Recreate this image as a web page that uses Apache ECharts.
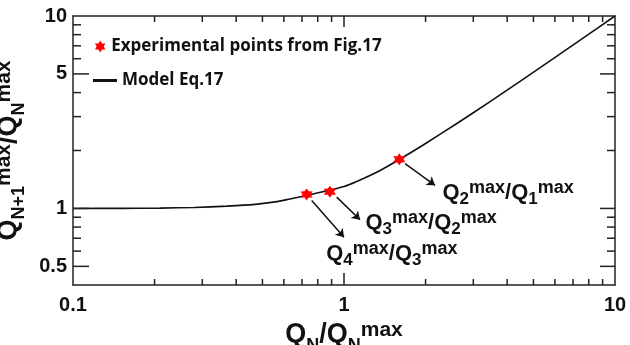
<!DOCTYPE html>
<html><head><meta charset="utf-8">
<script src="https://cdn.jsdelivr.net/npm/echarts@6/dist/echarts.min.js"></script>
<style>html,body{margin:0;padding:0;background:#fff}#c{width:630px;height:345px}</style>
</head><body><div id="c"></div>
<script>
// ---- data ----
const modelX = [0.1, 0.15, 0.209, 0.28, 0.37, 0.47, 0.566, 0.632, 0.728, 0.887, 1.0, 1.114, 1.32, 1.6, 1.96, 2.6, 3.46, 4.59, 5.92, 7.86, 10];
const modelY = [1.0, 1.001, 1.004, 1.012, 1.028, 1.05, 1.085, 1.12, 1.168, 1.245, 1.30, 1.38, 1.541, 1.797, 2.136, 2.754, 3.59, 4.70, 6.0, 7.90, 10];
const expX = [0.728, 0.887, 1.6];
const expY = [1.183, 1.222, 1.80];

const xLabelVals = [0.1, 1, 10];
const xMajorTicks = [1];
const xMinorTicks = [0.2, 0.3, 0.4, 0.5, 0.6, 0.7, 0.8, 0.9, 2, 3, 4, 5, 6, 7, 8, 9];
const yLabelVals = [0.5, 1, 5, 10];
const yMajorTicks = [0.5, 1, 5];
const yMinorTicks = [0.6, 0.7, 0.8, 0.9, 2, 3, 4, 6, 7, 8, 9];
const xRange = [0.1, 10];
const yRange = [0.4, 10];

// annotations: Q_num^max / Q_den^max
const annotNum = [2, 3, 4];
const annotDen = [1, 2, 3];
const annotX = [2.299, 1.195, 0.856];
const annotY = [1.206, 0.840, 0.583];
const arrowFromX = [1.68, 0.94, 0.76];
const arrowFromY = [1.71, 1.145, 1.10];
const arrowToX = [2.167, 1.146, 1.0];
const arrowToY = [1.318, 0.873, 0.709];

const legendNames = ['Experimental points from Fig.17', 'Model Eq.17'];

// ---- build ----
const L = Math.log10;
const INK = '#111';
const FONT = 'Liberation Sans';
const xMin = L(xRange[0]), xMax = L(xRange[1]);
const yMin = L(yRange[0]), yMax = L(yRange[1]);
const GRID = { left: 73, right: 15, top: 16, bottom: 60 };
const W = 630, H = 345;

function starPath() {
  const pts = [];
  for (let i = 0; i < 12; i++) {
    const a = (-90 + i * 30) * Math.PI / 180;
    const r = i % 2 === 0 ? 50 : 30;
    pts.push((50 + r * Math.cos(a)).toFixed(2) + ' ' + (50 + r * Math.sin(a)).toFixed(2));
  }
  return 'path://M' + pts.join(' L') + ' Z';
}
const STAR = starPath();
const fmt = v => String(Math.round(Math.pow(10, v) * 1000) / 1000);

const titleRich = {
  q: { fontSize: 27, fontWeight: 'bold', fontFamily: FONT, color: INK, lineHeight: 34 },
  sub: { fontSize: 18, fontWeight: 'bold', fontFamily: FONT, color: INK, padding: [22, 0, 0, 0] },
  sup: { fontSize: 21, fontWeight: 'bold', fontFamily: FONT, color: INK, padding: [0, 0, 9, 0] }
};
const annRich = {
  q: { fontSize: 22, fontWeight: 'bold', fontFamily: FONT, color: INK, lineHeight: 32 },
  sub: { fontSize: 17, fontWeight: 'bold', fontFamily: FONT, color: INK, padding: [13, 0, 0, 0] },
  sup: { fontSize: 18, fontWeight: 'bold', fontFamily: FONT, color: INK, padding: [0, 0, 9, 0] }
};

const frameStyle = { color: '#222', width: 1.5 };
function ax(extra) {
  return Object.assign({
    type: 'value',
    axisLine: { show: true, onZero: false, lineStyle: frameStyle },
    splitLine: { show: false },
    axisLabel: { show: false },
    axisTick: { show: false }
  }, extra);
}
const labelStyle = { fontSize: 20, fontWeight: 'bold', fontFamily: FONT, color: INK };

// tick definitions: [xValue, yValue, dxPx, dyPx]
const tickDefs = [];
xMajorTicks.forEach(v => { tickDefs.push([L(v), yMin, 0, -12]); tickDefs.push([L(v), yMax, 0, 11]); });
xMinorTicks.forEach(v => { tickDefs.push([L(v), yMin, 0, -6]); tickDefs.push([L(v), yMax, 0, 6]); });
yMajorTicks.forEach(v => { tickDefs.push([xMin, L(v), 16, 0]); tickDefs.push([xMax, L(v), -15, 0]); });
yMinorTicks.forEach(v => { tickDefs.push([xMin, L(v), 8, 0]); tickDefs.push([xMax, L(v), -8, 0]); });

const legendText = { fontFamily: 'Open Sans', fontWeight: 'bold', fontSize: 17, color: INK };

const option = {
  animation: false,
  backgroundColor: '#fff',
  grid: Object.assign({ show: false, containLabel: false, outerBoundsMode: 'none' }, GRID),
  legend: [
    { data: [legendNames[0]], left: 95, top: 38, padding: 0, itemWidth: 12, itemHeight: 12, selectedMode: false,
      textStyle: legendText },
    { data: [{ name: legendNames[1], icon: 'rect', itemStyle: { color: INK } }], left: 93, top: 72, padding: 0,
      itemWidth: 24, itemHeight: 3, selectedMode: false, textStyle: legendText }
  ],
  xAxis: [
    ax({ position: 'bottom', min: xMin, max: xMax,
      axisLabel: Object.assign({ show: true, margin: 10, customValues: xLabelVals.map(L), formatter: fmt }, labelStyle),
      name: '{q|Q}{sub|N}{q|/Q}{sub|N}{sup|max}', nameLocation: 'middle', nameGap: 25,
      nameTextStyle: { rich: titleRich } }),
    ax({ position: 'top', min: xMin, max: xMax })
  ],
  yAxis: [
    ax({ position: 'left', min: yMin, max: yMax,
      axisLabel: Object.assign({ show: true, margin: 6, customValues: yLabelVals.map(L), formatter: fmt }, labelStyle),
      name: '{q|Q}{sub|N+1}{sup|max}{q|/Q}{sub|N}{sup|max}', nameLocation: 'middle', nameRotate: 90, nameGap: 31,
      nameTextStyle: { rich: titleRich } }),
    ax({ position: 'right', min: yMin, max: yMax })
  ],
  series: [
    { name: legendNames[1], type: 'line', symbol: 'none', smooth: 0.25,
      data: modelX.map((x, i) => [L(x), L(modelY[i])]),
      lineStyle: { color: INK, width: 1.6 }, itemStyle: { color: INK }, z: 2 },
    { type: 'lines', coordinateSystem: 'cartesian2d', silent: true, symbol: ['none', 'arrow'], symbolSize: [0, 8],
      lineStyle: { color: INK, width: 1.5, opacity: 1, curveness: 0 },
      data: arrowFromX.map((x, i) => ({ coords: [[L(x), L(arrowFromY[i])], [L(arrowToX[i]), L(arrowToY[i])]] })), z: 3 },
    { name: legendNames[0], type: 'scatter', symbol: STAR, symbolSize: 12,
      data: expX.map((x, i) => [L(x), L(expY[i])]),
      itemStyle: { color: '#ff0000', opacity: 1 }, z: 4 },
    { type: 'scatter', silent: true, symbolSize: 1, itemStyle: { color: 'rgba(0,0,0,0)' },
      data: annotX.map((x, i) => [L(x), L(annotY[i])]),
      label: { show: true, position: 'right', distance: 0, color: INK, opacity: 1, textBorderWidth: 0,
        formatter: p => '{q|Q}{sub|' + annotNum[p.dataIndex] + '}{sup|max}{q|/Q}{sub|' + annotDen[p.dataIndex] + '}{sup|max}',
        rich: annRich }, z: 5 }
  ]
};
const chart = echarts.init(document.getElementById('c'), null, { renderer: 'canvas' });
chart.setOption(option);

// tick marks placed via the grid's own data-to-pixel conversion
const tickEls = tickDefs.map(t => {
  const p = chart.convertToPixel({ gridIndex: 0 }, [t[0], t[1]]);
  return { type: 'line', silent: true, z: 100,
           shape: { x1: p[0], y1: p[1], x2: p[0] + t[2], y2: p[1] + t[3] },
           style: { stroke: '#222', lineWidth: 1.5 } };
});
chart.setOption({ graphic: { elements: tickEls } });
</script>
</body></html>
